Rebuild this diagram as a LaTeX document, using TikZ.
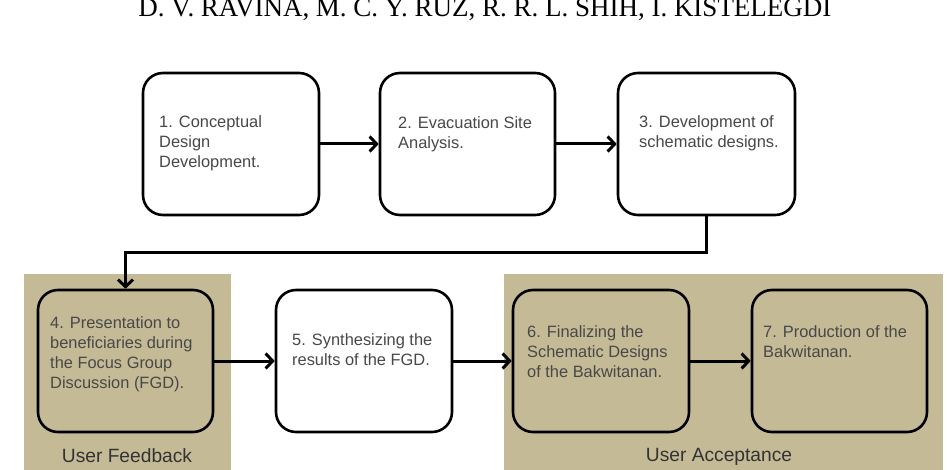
\documentclass[tikz,border=0pt]{standalone}
\usepackage{fontspec}
\setmainfont{Liberation Sans}
\newfontfamily\headfont{Liberation Serif}
\usetikzlibrary{arrows.meta}
\definecolor{beige}{HTML}{C4BA96}
\definecolor{txtgray}{HTML}{484848}
\begin{document}
\begin{tikzpicture}[x=1pt,y=-1pt,
  stepbox/.style={draw=black, line width=2.6pt, rounded corners=20pt, inner sep=0pt, minimum height=142pt},
  boxtext/.style={anchor=base west, align=left, font=\fontsize{16.4}{20}\selectfont, text=txtgray, inner sep=0pt},
  flow/.style={line width=3pt, -{Straight Barb[length=7pt,width=15pt,line width=3pt]}},
  panel/.style={fill=beige, draw=none},
  grouplabel/.style={font=\fontsize{19.2}{22}\selectfont, text=black!80, anchor=center}]
\useasboundingbox (0,0) rectangle (947,470);
% header
\node[font=\headfont\fontsize{27}{27}\selectfont, anchor=base, inner sep=0pt] (hdr) at (485,17) {D. V. RAVINA, M. C. Y. RUZ, R. R. L. SHIH, I. KISTELEGDI};
% panels
\fill[beige] (24,274) rectangle (231,470);
\fill[beige] (504,274) rectangle (943,470);
\node[grouplabel] (lfb) at (127,456) {User Feedback};
\node[grouplabel] (lua) at (719,457) {User Acceptance};
% boxes
\node[stepbox, fill=white, minimum width=176pt] (b1) at (231,144) {};
\node[stepbox, fill=white, minimum width=175pt] (b2) at (467.5,144) {};
\node[stepbox, fill=white, minimum width=177pt] (b3) at (706.5,144) {};
\node[stepbox, minimum width=175pt] (b4) at (125.5,361) {};
\node[stepbox, fill=white, minimum width=176pt] (b5) at (364,361) {};
\node[stepbox, minimum width=176pt] (b6) at (601,361) {};
\node[stepbox, minimum width=175pt] (b7) at (839.5,361) {};
% texts (anchor at baseline of last line)
\node[boxtext] (t1) at (159,168) {1. Conceptual\\Design\\Development.};
\node[boxtext] (t2) at (398,149) {2. Evacuation Site\\Analysis.};
\node[boxtext] (t3) at (639,148) {3. Development of\\schematic designs.};
\node[boxtext] (t4) at (50,388) {4. Presentation to\\beneficiaries during\\the Focus Group\\Discussion (FGD).};
\node[boxtext] (t5) at (292,365) {5. Synthesizing the\\results of the FGD.};
\node[boxtext] (t6) at (527,377) {6. Finalizing the\\Schematic Designs\\of the Bakwitanan.};
\node[boxtext] (t7) at (763,357) {7. Production of the\\Bakwitanan.};
% connectors
\coordinate (bend) at (0,253);
\draw[flow] (b1.east) -- (b2.west);
\draw[flow] (b2.east) -- (b3.west);
\draw[flow] (b3.south) |- (bend -| b4.north) -- (b4.north);
\draw[flow] (b4.east) -- (b5.west);
\draw[flow] (b5.east) -- (b6.west);
\draw[flow] (b6.east) -- (b7.west);
\end{tikzpicture}
\end{document}
